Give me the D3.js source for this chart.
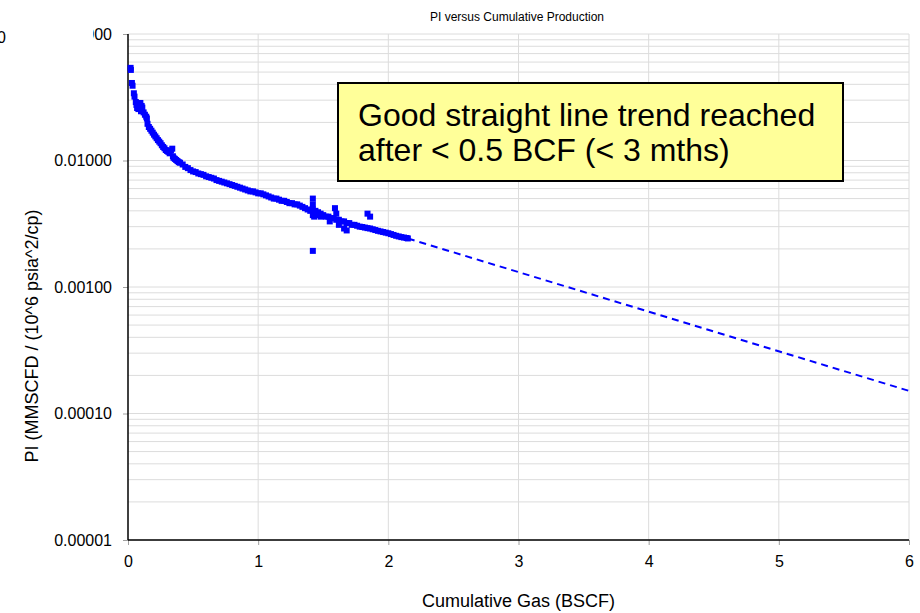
<!DOCTYPE html>
<html>
<head>
<meta charset="utf-8">
<script src="https://cdn.jsdelivr.net/npm/d3@7"></script>
<style>
    body { margin: 0; background: #fff; }
    svg { font-family: Arial, "Liberation Sans", sans-serif; }
</style>
</head>
<body>
<div class="output"></div>
<script>
// Cumulative gas (BSCF) of each measured point
const cumGas = [
    0.02, 0.022, 0.03, 0.035, 0.045, 0.05, 0.06, 0.065, 0.07, 0.08,
    0.09, 0.095, 0.10, 0.105, 0.11, 0.12, 0.13, 0.14, 0.145, 0.15,
    0.16, 0.17, 0.18, 0.19, 0.20, 0.21, 0.22, 0.23, 0.24, 0.25,
    0.26, 0.27, 0.28, 0.29, 0.30, 0.31, 0.32, 0.33, 0.34, 0.345,
    0.35, 0.36, 0.37, 0.38, 0.39, 0.40, 0.42, 0.44, 0.46, 0.48,
    0.50, 0.52, 0.54, 0.56, 0.58, 0.60, 0.62, 0.64, 0.66, 0.68,
    0.70, 0.72, 0.74, 0.76, 0.78, 0.80, 0.82, 0.84, 0.86, 0.88,
    0.90, 0.92, 0.94, 0.96, 0.98, 1.00, 1.02, 1.04, 1.06, 1.08,
    1.10, 1.12, 1.14, 1.16, 1.18, 1.20, 1.22, 1.24, 1.26, 1.28,
    1.30, 1.32, 1.34, 1.36, 1.38, 1.40, 1.42, 1.44, 1.46, 1.48,
    1.50, 1.52, 1.54, 1.56, 1.58, 1.60, 1.62, 1.64, 1.66, 1.68,
    1.70, 1.72, 1.74, 1.76, 1.78, 1.80, 1.82, 1.84, 1.86, 1.88,
    1.90, 1.92, 1.94, 1.96, 1.98, 2.00, 2.02, 2.04, 2.06, 2.08,
    2.10, 2.12, 2.14, 2.15,
    // scattered points
    1.42, 1.42, 1.42, 1.43, 1.42, 1.45, 1.48, 1.55, 1.59, 1.60,
    1.62, 1.66, 1.68, 1.84, 1.86
];

// PI (MMSCFD / (10^6 psia^2/cp)) of each measured point
const piValues = [
    0.054, 0.052, 0.041, 0.039, 0.034, 0.032, 0.029, 0.0275, 0.026, 0.0255,
    0.027, 0.0285, 0.0245, 0.0270, 0.0262, 0.0240, 0.0230, 0.0222, 0.0215, 0.0195,
    0.0184, 0.0178, 0.0172, 0.0166, 0.0160, 0.0155, 0.0150, 0.0145, 0.0141, 0.0137,
    0.0132, 0.0128, 0.0125, 0.0121, 0.0119, 0.0117, 0.0114, 0.0120, 0.0124, 0.0108,
    0.0105, 0.0103, 0.0101, 0.0099, 0.0097, 0.0096, 0.0093, 0.0089, 0.0087, 0.0084,
    0.0082, 0.0081, 0.0079, 0.0078, 0.0077, 0.0075, 0.0074, 0.0073, 0.0072, 0.0070,
    0.0069, 0.0068, 0.0067, 0.0066, 0.0065, 0.0064, 0.0063, 0.0062, 0.0061, 0.0060,
    0.0059, 0.0058, 0.0057, 0.0057, 0.0056, 0.0055, 0.0055, 0.0054, 0.0053, 0.0052,
    0.0051, 0.0050, 0.0050, 0.0049, 0.0048, 0.0048, 0.0047, 0.0046, 0.0046, 0.0045,
    0.0045, 0.0044, 0.0043, 0.0042, 0.0041, 0.0040, 0.0041, 0.0040, 0.0039, 0.0038,
    0.0037, 0.0036, 0.0036, 0.0035, 0.0035, 0.0034, 0.0034, 0.0033, 0.0033, 0.0032,
    0.0032, 0.0031, 0.0031, 0.00305, 0.0030, 0.00298, 0.00295, 0.00292, 0.0029, 0.00286,
    0.00282, 0.00278, 0.00275, 0.00272, 0.00269, 0.00266, 0.00262, 0.00258, 0.00254, 0.00251,
    0.00248, 0.00246, 0.00244, 0.00242,
    // scattered points
    0.0050, 0.0045, 0.0037, 0.0036, 0.00193, 0.0037, 0.0036, 0.0033, 0.0042, 0.0038,
    0.0031, 0.0029, 0.0028, 0.0038, 0.0036
];

// Extrapolated trend (dashed)
const trendGas = [2.15, 6];
const trendPi = [0.00242, 0.000151];

// Ticks
const xTicks = [0, 1, 2, 3, 4, 5, 6];
const yTicks = [0.00001, 0.0001, 0.001, 0.01, 0.1];

const titleText = "PI versus Cumulative Production";
const xTitle = "Cumulative Gas (BSCF)";
const yTitle = "PI (MMSCFD / (10^6 psia^2/cp)";
const noteLines = ["Good straight line trend reached", "after < 0.5 BCF (< 3 mths)"];

const margin = {top: 34, right: 11, bottom: 73, left: 128};
const width = 920 - margin.left - margin.right;
const height = 613 - margin.top - margin.bottom;

let root = d3.select(".output")
    .append("svg")
    .attr("width", 920)
    .attr("height", 613);

let svg = root.append("g")
    .attr("transform", "translate(" + margin.left + "," + margin.top + ")");

let x = d3.scaleLinear()
    .domain([0, 6])
    .range([0, width]);

let y = d3.scaleLog()
    .domain([0.00001, 0.1])
    .range([height, 0]);

// Сетка
svg.append("g")
    .selectAll("line")
    .data(y.ticks())
    .enter()
    .append("line")
    .attr("x1", 0)
    .attr("x2", width)
    .attr("y1", (d) => y(d))
    .attr("y2", (d) => y(d))
    .attr("stroke", "#dcdcdc")
    .attr("stroke-width", 1);

svg.append("g")
    .selectAll("line")
    .data(xTicks.slice(1))
    .enter()
    .append("line")
    .attr("x1", (d) => x(d))
    .attr("x2", (d) => x(d))
    .attr("y1", 0)
    .attr("y2", height)
    .attr("stroke", "#dcdcdc")
    .attr("stroke-width", 1);

// Ось Y
let yAxis = svg.append("g")
    .call(d3.axisLeft(y)
        .tickValues(yTicks)
        .tickFormat((d) => d.toFixed(5))
        .tickSize(5)
        .tickPadding(11));

// Ось X
let xAxis = svg.append("g")
    .attr("transform", "translate(0," + height + ")")
    .call(d3.axisBottom(x)
        .tickValues(xTicks)
        .tickFormat(d3.format("d"))
        .tickSize(5)
        .tickPadding(11));

[yAxis, xAxis].forEach((ax) => {
    ax.select(".domain").remove();
    ax.selectAll(".tick line").attr("stroke", "#a0a0a0");
    ax.selectAll(".tick text")
        .attr("fill", "#000")
        .style("font-size", "16px")
        .style("font-family", "Arial, 'Liberation Sans', sans-serif");
});

// the top tick label is partly hidden in the original
root.append("clipPath")
    .attr("id", "topClip")
    .append("rect")
    .attr("x", 93 - margin.left)
    .attr("y", -20)
    .attr("width", 40)
    .attr("height", 40);
yAxis.selectAll(".tick")
    .filter((d) => d === 0.1)
    .select("text")
    .attr("clip-path", "url(#topClip)");

svg.append("line")
    .attr("x1", 0).attr("x2", 0)
    .attr("y1", 0).attr("y2", height)
    .attr("stroke", "#000")
    .attr("stroke-width", 1.5);
svg.append("line")
    .attr("x1", 0).attr("x2", width)
    .attr("y1", height).attr("y2", height)
    .attr("stroke", "#000")
    .attr("stroke-width", 1.5);

// Тренд
let trend = d3.line()
    .x((d) => x(d[0]))
    .y((d) => y(d[1]));
svg.append("path")
    .attr("d", trend(d3.zip(trendGas, trendPi)))
    .attr("fill", "none")
    .attr("stroke", "#0000ff")
    .attr("stroke-width", 2)
    .attr("stroke-dasharray", "7,5");

// Точки
svg.append("g")
    .selectAll("rect")
    .data(d3.zip(cumGas, piValues))
    .enter()
    .append("rect")
    .attr("x", (d) => x(d[0]) - 3)
    .attr("y", (d) => y(d[1]) - 3)
    .attr("width", 6)
    .attr("height", 6)
    .attr("fill", "#0000ff");

// Подписи
root.append("text")
    .text(titleText)
    .attr("x", 517)
    .attr("y", 21)
    .attr("text-anchor", "middle")
    .style("font-size", "12px");

root.append("text")
    .text(xTitle)
    .attr("x", margin.left + width / 2)
    .attr("y", 607)
    .attr("text-anchor", "middle")
    .style("font-size", "18px");

root.append("text")
    .text(yTitle)
    .attr("transform", "translate(38,336) rotate(-90)")
    .attr("text-anchor", "middle")
    .style("font-size", "18px");

root.append("text")
    .text("0")
    .attr("x", 6)
    .attr("y", 43)
    .attr("text-anchor", "end")
    .style("font-size", "16px");

// Заметка
let note = root.append("g");
note.append("rect")
    .attr("x", 338)
    .attr("y", 83)
    .attr("width", 505)
    .attr("height", 98)
    .attr("fill", "#ffff99")
    .attr("stroke", "#000")
    .attr("stroke-width", 2);
note.selectAll("text")
    .data(noteLines)
    .enter()
    .append("text")
    .text((d) => d)
    .attr("x", 358)
    .attr("y", (d, i) => 126 + i * 35)
    .style("font-size", "32px");
</script>
</body>
</html>
